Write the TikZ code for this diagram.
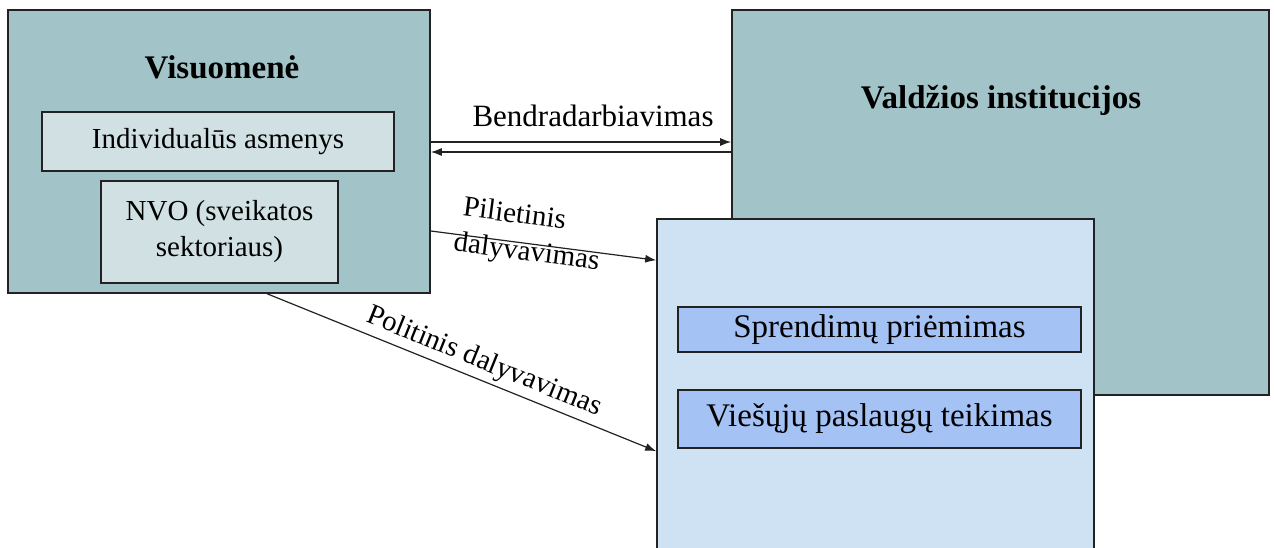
\documentclass[tikz,border=0pt]{standalone}
\usepackage{fontspec}
\setmainfont{Liberation Serif}
\usetikzlibrary{arrows.meta,calc}
\definecolor{tealgray}{HTML}{A2C4C9}
\definecolor{palecyan}{HTML}{D0E0E3}
\definecolor{paleblue}{HTML}{CFE2F3}
\definecolor{cornblue}{HTML}{A4C2F4}
\definecolor{edge}{HTML}{222222}
\tikzset{
  box/.style={draw=edge, line width=1.6pt, rectangle, inner sep=0pt, align=center},
  bodytext/.style={font=\fontsize{29}{36}\selectfont},
  bigtext/.style={font=\fontsize{33}{38}\selectfont},
  titletext/.style={font=\fontsize{33}{38}\selectfont\bfseries},
  arr/.style={draw=edge, line width=1.2pt, -{Latex[length=11pt,width=8pt]}},
  lbl/.style={bodytext, inner sep=4pt, align=center}
}
\begin{document}
\begin{tikzpicture}[x=1pt, y=-1pt]
  \useasboundingbox (0,0) rectangle (1274,548);
  \clip (0,0) rectangle (1274,548);

  % society block
  \node[box, fill=tealgray, minimum width=422pt, minimum height=283pt] (vis) at (219,151.5) {};
  \node[titletext] (vistitle) at (222,67) {Visuomenė};
  \node[box, bodytext, fill=palecyan, minimum width=352pt, minimum height=59pt] (ind) at (218,141.5) {Individualūs asmenys};
  \node[box, bodytext, fill=palecyan, minimum width=237pt, minimum height=102pt] (nvo) at (219.5,232) {NVO (sveikatos\\sektoriaus)};

  % government block
  \node[box, fill=tealgray, minimum width=537pt, minimum height=385pt] (val) at (1000.5,202.5) {};
  \node[titletext] (valtitle) at (1001,100) {Valdžios institucijos};

  % public processes block
  \node[box, fill=paleblue, minimum width=437pt, minimum height=351pt] (pub) at (875.5,394.5) {};
  \node[box, bigtext, fill=cornblue, minimum width=403pt, minimum height=45pt] (spr) at (879.5,329.5) {Sprendimų priėmimas};
  \node[box, bigtext, fill=cornblue, minimum width=403pt, minimum height=58pt] (vie) at (879.5,419) {Viešųjų paslaugų teikimas};

  % cooperation arrows
  \draw[arr] ([yshift=9.5pt]vis.east) -- ([yshift=9.5pt]vis.east -| val.west)
    node[lbl, font=\fontsize{31}{36}\selectfont, pos=0.54, above=11pt] (bendr) {Bendradarbiavimas};
  \draw[arr] ([yshift=-0.5pt]vis.east -| val.west) -- ([yshift=-0.5pt]vis.east);

  % civic participation
  \draw[arr] ([yshift=-79.5pt]vis.east) -- ($(pub.north west)+(0,42)$)
    node[lbl, align=left, sloped, pos=0.43, yshift=8pt] (pil) {\hspace{5pt}Pilietinis\\dalyvavimas};

  % political participation
  \draw[arr] ($(vis.south west)+(260,0)$) -- ($(pub.north west)+(0,233)$)
    node[lbl, sloped, above, pos=0.54] (pol) {Politinis dalyvavimas};
\end{tikzpicture}
\end{document}
